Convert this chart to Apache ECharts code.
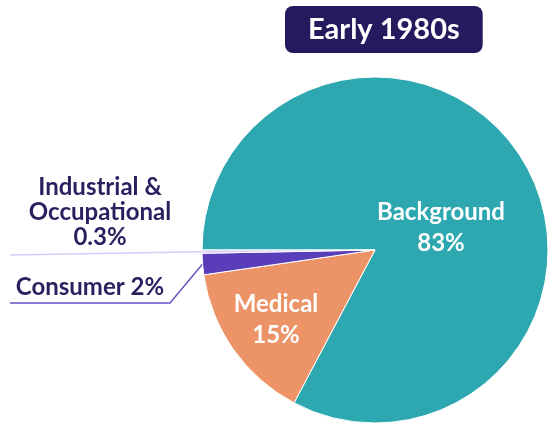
<!DOCTYPE html>
<html>
<head>
<meta charset="utf-8">
<script src="https://cdn.jsdelivr.net/npm/echarts@6/dist/echarts.min.js"></script>
<style>html,body{margin:0;padding:0;background:#fff}#c{width:550px;height:426px}</style>
</head>
<body>
<div id="c"></div>
<script>
const categories = ['Background', 'Medical', 'Consumer', 'Industrial & Occupational'];
const values = [83, 15, 2, 0.3];
const labelTexts = ['Background\n83%', 'Medical\n15%', 'Consumer 2%', 'Industrial &\nOccupational\n0.3%'];
const colors = ['#2DA8B1', '#EC9467', '#5A3DB8', '#D8CCFB'];
const titleText = 'Early 1980s';

const FONT = 'Lato';
const chart = echarts.init(document.getElementById('c'));
const data = categories.map((name, i) => {
  const outside = i >= 2;
  return {
    name: name,
    value: values[i],
    itemStyle: { color: colors[i] },
    label: outside ? {
      position: 'outside',
      color: '#2B1F5F',
      fontSize: 24,
      lineHeight: 25,
      fontWeight: 'bold',
      fontFamily: FONT
    } : {
      position: 'inside',
      color: '#ffffff',
      fontSize: 24,
      lineHeight: 31,
      fontWeight: 'bold',
      fontFamily: FONT
    },
    labelLine: outside ? { show: true, lineStyle: { color: i === 2 ? '#6A52C4' : '#D8CCFB', width: 1.5 } } : { show: false }
  };
});

chart.setOption({
  animation: false,
  title: {
    text: titleText,
    left: 285,
    top: 6,
    padding: [7, 23],
    backgroundColor: '#261A5E',
    borderRadius: 8,
    textStyle: { color: '#ffffff', fontSize: 29, lineHeight: 33, fontWeight: 'bold', fontFamily: FONT }
  },
  series: [{
    type: 'pie',
    center: [375, 250],
    radius: 173,
    startAngle: 180,
    clockwise: true,
    avoidLabelOverlap: false,
    itemStyle: { borderColor: '#ffffff', borderWidth: 1 },
    label: {
      formatter: p => labelTexts[p.dataIndex]
    },
    labelLayout: function (p) {
      const pts = p.labelLinePoints;
      if (p.dataIndex === 0) return { x: 441, y: 228, align: 'center', verticalAlign: 'middle' };
      if (p.dataIndex === 1) return { x: 276, y: 320, align: 'center', verticalAlign: 'middle' };
      if (p.dataIndex === 3) {
        const s = pts ? pts[0] : [202, 253];
        return { x: 100, y: 250, align: 'center', verticalAlign: 'bottom', labelLinePoints: [s, [10, 255]] };
      }
      if (p.dataIndex === 2) {
        const s = pts ? pts[0] : [203, 272];
        return { x: 90, y: 300, align: 'center', verticalAlign: 'bottom', labelLinePoints: [s, [170, 303], [10, 303]] };
      }
    },
    data: data
  }]
});
</script>
</body>
</html>
